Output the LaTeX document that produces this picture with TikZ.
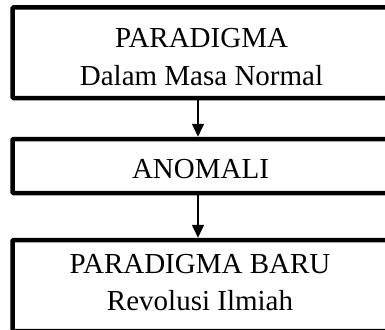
\documentclass[tikz,border=0pt]{standalone}
\usepackage{fontspec}
\setmainfont{Liberation Serif}
\usetikzlibrary{arrows.meta}
\begin{document}
\begin{tikzpicture}[x=1pt,y=-1pt,
  frame/.style={draw=black, line width=4.5pt, rounded corners=1pt},
  caption/.style={anchor=base, inner sep=0pt, font=\fontsize{29}{34}\selectfont},
  flow/.style={line width=1.6pt, -{Triangle[width=12pt,length=13pt]}}]
  \useasboundingbox (0,0) rectangle (385,329);
  \clip (0,0) rectangle (385,329);
  % frame corners; each frame runs on past the right edge of the page
  \coordinate (b1nw) at (12.5,7.5);  \coordinate (b1se) at (420,98);
  \coordinate (b2nw) at (12.5,139);  \coordinate (b2se) at (420,193);
  \coordinate (b3nw) at (12.5,240);  \coordinate (b3se) at (420,331);
  \draw[frame] (b1se |- b1nw) -- (b1nw) -- (b1nw |- b1se) -- (b1se);
  \draw[frame] (b2se |- b2nw) -- (b2nw) -- (b2nw |- b2se) -- (b2se);
  \draw[frame] (b3se |- b3nw) -- (b3nw) -- (b3nw |- b3se) -- (b3se);
  % labels
  \node[caption] (t1a) at (201.5,48) {PARADIGMA};
  \node[caption] (t1b) at (201.5,85) {Dalam Masa Normal};
  \node[caption] (t2) at (200.5,178) {ANOMALI};
  \node[caption] (t3a) at (200,273) {PARADIGMA BARU};
  \node[caption] (t3b) at (200,310) {Revolusi Ilmiah};
  % connectors, from the outer edge of one frame to the next
  \coordinate (a1s) at (198,100.25);  \coordinate (a1e) at (198,136.75);
  \coordinate (a2s) at (198,195.25);  \coordinate (a2e) at (198,237.75);
  \draw[flow] (a1s) -- (a1e);
  \draw[flow] (a2s) -- (a2e);
\end{tikzpicture}
\end{document}
